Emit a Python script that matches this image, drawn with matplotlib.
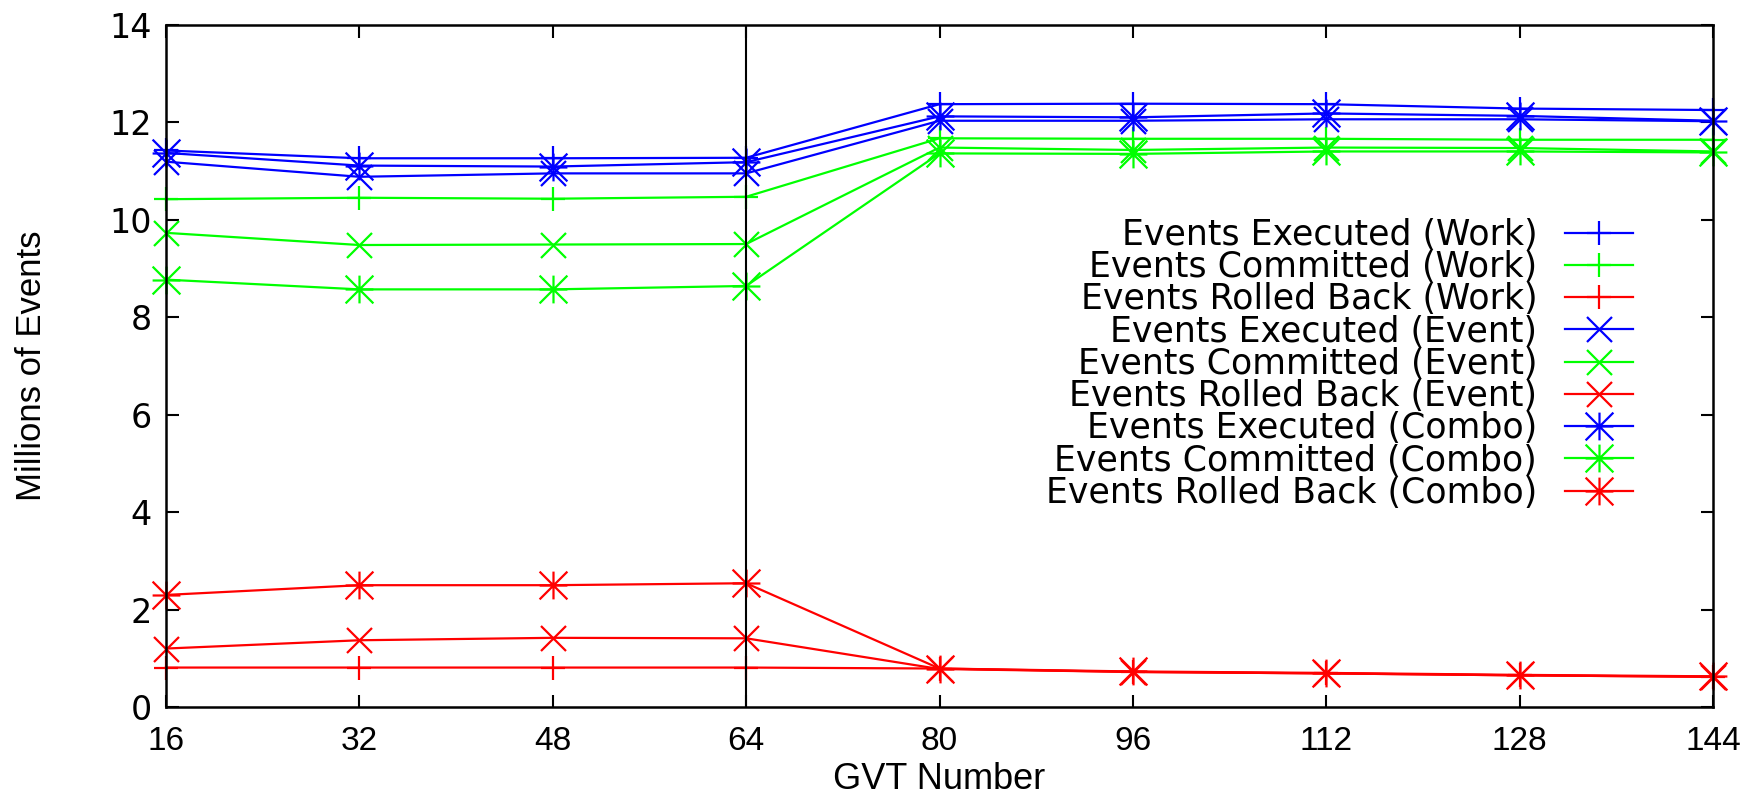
import matplotlib
matplotlib.use('Agg')
import matplotlib.pyplot as plt
from matplotlib.path import Path

# ---- data (millions of events per GVT number) ----
gvt = [16, 32, 48, 64, 80, 96, 112, 128, 144]

exec_work = [11.42, 11.26, 11.26, 11.27, 12.37, 12.38, 12.37, 12.28, 12.25]
commit_work = [10.42, 10.45, 10.43, 10.47, 11.67, 11.66, 11.66, 11.64, 11.64]
rb_work = [0.81, 0.81, 0.81, 0.81, 0.79, 0.72, 0.69, 0.65, 0.62]

exec_event = [11.19, 10.88, 10.95, 10.95, 12.03, 12.03, 12.06, 12.06, 12.02]
commit_event = [9.73, 9.48, 9.49, 9.50, 11.48, 11.43, 11.48, 11.47, 11.40]
rb_event = [1.20, 1.37, 1.42, 1.41, 0.78, 0.72, 0.69, 0.65, 0.62]

exec_combo = [11.37, 11.11, 11.09, 11.18, 12.12, 12.10, 12.18, 12.13, 12.03]
commit_combo = [8.77, 8.57, 8.57, 8.64, 11.36, 11.35, 11.40, 11.40, 11.38]
rb_combo = [2.30, 2.50, 2.50, 2.54, 0.79, 0.73, 0.70, 0.66, 0.63]

switch_gvt = 64
yticks = [0, 2, 4, 6, 8, 10, 12, 14]

# gnuplot style "*" = plus and cross together
star = Path([(-1, 0), (1, 0), (0, -1), (0, 1), (-1, -1), (1, 1), (-1, 1), (1, -1)],
            [Path.MOVETO, Path.LINETO] * 4)

series = [
    ('Events Executed (Work)', exec_work, 'blue', '+', 17),
    ('Events Committed (Work)', commit_work, 'lime', '+', 17),
    ('Events Rolled Back (Work)', rb_work, 'red', '+', 17),
    ('Events Executed (Event)', exec_event, 'blue', 'x', 18),
    ('Events Committed (Event)', commit_event, 'lime', 'x', 18),
    ('Events Rolled Back (Event)', rb_event, 'red', 'x', 18),
    ('Events Executed (Combo)', exec_combo, 'blue', star, 20),
    ('Events Committed (Combo)', commit_combo, 'lime', star, 20),
    ('Events Rolled Back (Combo)', rb_combo, 'red', star, 20),
]

fig = plt.figure(figsize=(17.65, 7.98), dpi=100)
ax = fig.add_axes([0.094, 0.114, 0.8766, 0.855])

for label, vals, col, mk, ms in series:
    ax.plot(gvt, vals, color=col, marker=mk, markersize=ms, markeredgewidth=1.6,
            linewidth=1.6, label=label, clip_on=False)

ax.axvline(switch_gvt, color='black', linewidth=1.5)

ax.set_xlim(16, 144)
ax.set_ylim(0, 14)
ax.set_xticks(gvt)
ax.set_yticks(yticks)
ax.set_xticklabels([str(g) for g in gvt], fontsize=24, family='Liberation Sans')
ax.set_yticklabels([str(t) for t in yticks], fontsize=24, family='DejaVu Sans')
ax.tick_params(direction='in', length=9, width=1.5, top=True, right=True)
ax.tick_params(axis='x', pad=14)
ax.tick_params(axis='y', pad=10)
for s in ax.spines.values():
    s.set_linewidth(1.8)

ax.set_xlabel('GVT Number', fontsize=26, family='Liberation Sans', labelpad=3)
ax.set_ylabel('Millions of Events', fontsize=25, family='Liberation Sans', labelpad=44)

ax.legend(loc='center right', bbox_to_anchor=(0.948, 0.503), markerfirst=False,
          frameon=False, numpoints=1, borderaxespad=0, borderpad=0,
          handlelength=1.95, handletextpad=0.8, labelspacing=-0.05,
          prop={'family': 'DejaVu Sans', 'size': 25})

fig.savefig('out.png', dpi=100)
